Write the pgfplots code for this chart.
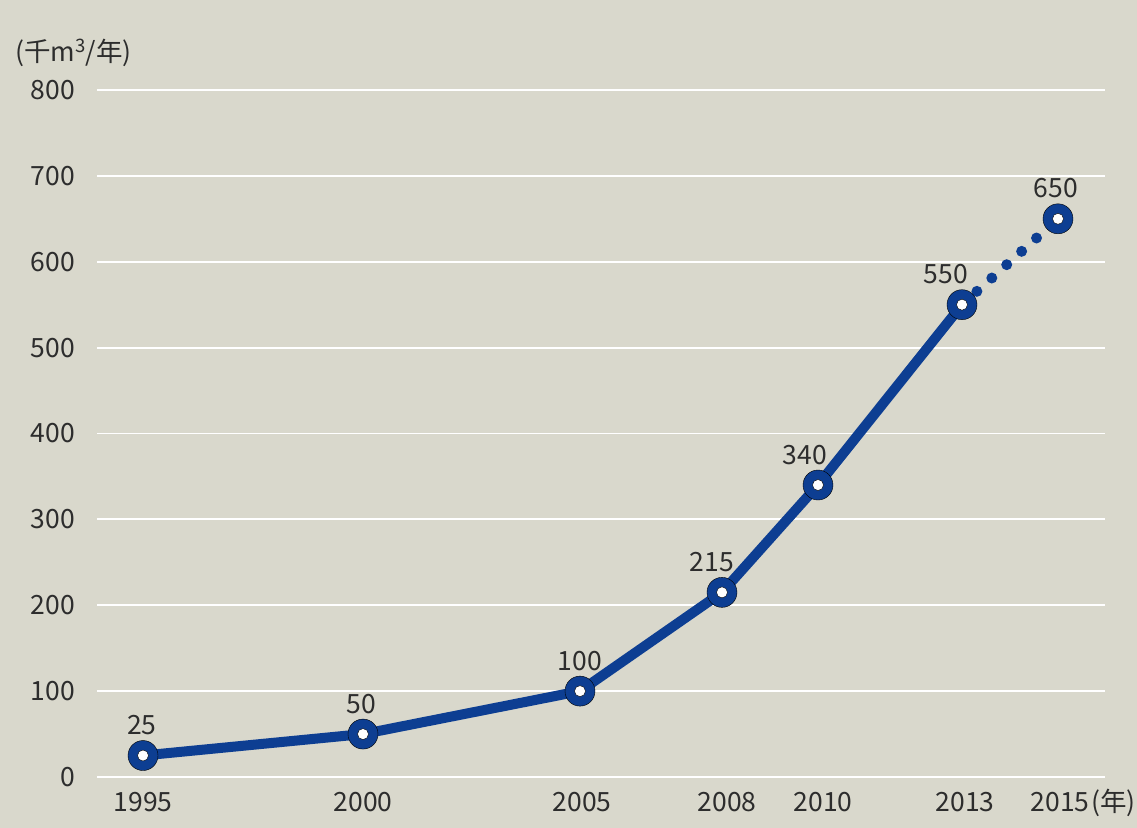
\documentclass[border=0pt]{standalone}
\usepackage{pgfplots}
\pgfplotsset{compat=1.18}
\usepackage{pgfplotstable}
\usepackage{fontspec}
\setmainfont{Noto Sans CJK JP}
\definecolor{bg}{RGB}{217,216,204}
\definecolor{lineblue}{RGB}{13,62,146}
\definecolor{txt}{RGB}{45,45,45}
\pgfplotstableread{
x y dx lab
143 25 -1 25
363 50 -2 50
580 100 0 100
722 215 -10 215
818 340 -13 340
962 550 -16 550
1058 650 -2 650
}\datatable
\pgfplotstableread{
x y
143 25
363 50
580 100
722 215
818 340
962 550
}\solidtable
\pgfplotstableread{
x y
962 550
1058 650
}\dottable
\newcommand{\lblfont}{\fontsize{26.5bp}{31bp}\selectfont}
\begin{document}
\begin{tikzpicture}
\clip (0,0) rectangle (1137bp,828bp);
\fill[bg] (0,0) rectangle (1137bp,828bp);
\begin{axis}[
  at={(97bp,51bp)}, anchor=south west,
  scale only axis, width=1008bp, height=687bp,
  xmin=97, xmax=1105, ymin=0, ymax=800,
  axis line style={draw=none},
  tick style={draw=none},
  major tick length=0pt,
  ytick={0,100,...,800},
  xtick={143,363,582,727,823,965,1060},
  xticklabels={1995,2000,2005,2008,2010,2013,2015},
  ymajorgrids,
  grid style={white, line width=1.8bp},
  /pgf/number format/assume math mode=true,
  /pgf/number format/1000 sep={},
  tick label style={font=\lblfont, text=txt},
  yticklabel style={anchor=east, inner sep=0pt, xshift=-22bp},
  xticklabel style={anchor=base, inner sep=0pt, yshift=-35bp},
  every axis y label/.style={at={(axis description cs:0,1)}, anchor=base west, inner sep=0pt, xshift=-82bp, yshift=28bp, font=\lblfont, text=txt},
  ylabel={(千m\textsuperscript{3}/年)},
  every axis x label/.style={at={(axis description cs:1,0)}, anchor=base west, inner sep=0pt, xshift=-14bp, yshift=-35bp, font=\lblfont, text=txt},
  xlabel={(年)},
  clip=false,
]
\addplot[lineblue, line width=10bp, line join=round] table[x=x,y=y] {\solidtable};
\addplot[lineblue, line width=11bp, line cap=round, dash pattern=on 0bp off 20bp] table[x=x,y=y] {\dottable};
\addplot[only marks, mark=*, mark size=15bp, mark options={fill=lineblue, draw=none},
  point meta=explicit symbolic,
  visualization depends on={\thisrow{dx} \as \dx},
  nodes near coords,
  every node near coord/.append style={font=\lblfont, text=txt, anchor=base, inner sep=0pt, yshift=21bp, xshift=\dx*1bp}
] table[x=x,y=y,meta=lab] {\datatable};
\addplot[only marks, mark=*, mark size=5.5bp, mark options={fill=white, draw=none}] table[x=x,y=y] {\datatable};
\end{axis}
\end{tikzpicture}
\end{document}
